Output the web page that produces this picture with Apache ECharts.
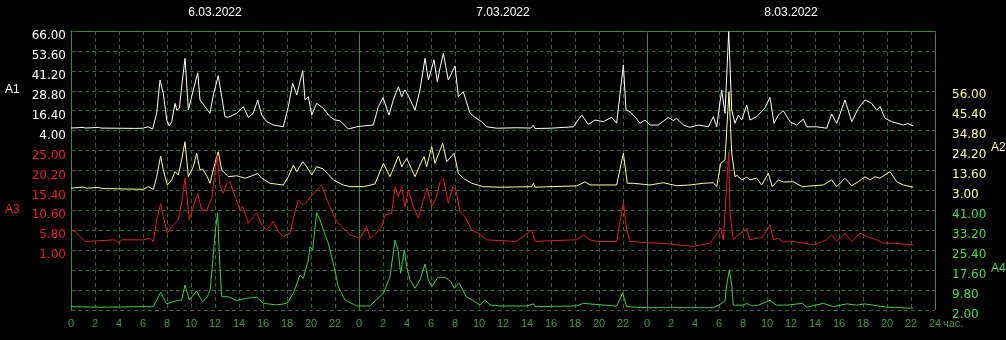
<!DOCTYPE html>
<html><head><meta charset="utf-8">
<script src="https://cdn.jsdelivr.net/npm/echarts@6/dist/echarts.min.js"></script>
<style>html,body{margin:0;padding:0;background:#000;}#c{width:1006px;height:340px;}</style>
</head><body><div id="c"></div>
<script>
// ---- data ----
const dayLabels = ['6.03.2022', '7.03.2022', '8.03.2022'];
const unitLabel = 'час.';
const a1Ticks = ['66.00', '53.60', '41.20', '28.80', '16.40', '4.00'];
const a3Ticks = ['25.00', '20.20', '15.40', '10.60', '5.80', '1.00'];
const a2Ticks = ['56.00', '45.40', '34.80', '24.20', '13.60', '3.00'];
const a4Ticks = ['41.00', '33.20', '25.40', '17.60', '9.80', '2.00'];

const a1Hours = [0, 1.0, 1.2, 2.3, 2.5, 5.3, 6.0, 6.4, 6.8, 7.14,
  7.42, 7.56, 7.69, 7.98, 8.19, 8.39, 8.67, 8.81, 9.03, 9.22,
  9.5, 9.78, 10.19, 10.56, 10.75, 10.97, 11.25, 11.58, 11.86, 12.27,
  12.56, 12.83, 13.11, 13.81, 14.36, 14.78, 15.19, 15.56, 15.89, 16.31,
  16.86, 17.69, 18.11, 18.47, 18.81, 19.31, 19.5, 19.78, 20.06, 20.47,
  21.03, 21.58, 22.0, 22.42, 23.11, 23.81, 24.36, 25.19, 25.61, 26.0,
  26.5, 26.86, 27.28, 27.56, 27.83, 28.08, 28.67, 29.08, 29.5, 29.78,
  30.25, 30.53, 30.75, 31.03, 31.44, 32.0, 32.28, 32.69, 33.25, 33.67,
  34.22, 34.64, 35.47, 37.14, 38.33, 38.53, 38.67, 39.92, 41.86, 42.56,
  43.11, 43.67, 44.36, 45.06, 45.47, 46.03, 46.25, 46.58, 47.0, 47.42,
  47.83, 48.25, 48.94, 49.78, 50.19, 50.47, 51.03, 51.58, 52.28, 53.11,
  53.53, 53.81, 54.22, 54.5, 54.81, 55.06, 55.33, 55.61, 55.89, 56.31,
  56.58, 57.14, 57.83, 58.25, 58.58, 58.94, 59.36, 59.92, 60.47, 61.03,
  61.31, 62.14, 62.97, 63.39, 63.81, 64.5, 65.06, 65.61, 66.17, 66.72,
  67.14, 67.42, 67.83, 68.39, 69.36, 69.75, 70.19];
const a1Values = [5.6, 6.0, 5.6, 6.0, 5.6, 5.4, 5.5, 6.4, 5.0, 14.8,
  35.5, 36.6, 27.2, 10.6, 6.9, 9.6, 21.0, 16.8, 17.9, 31.3,
  49.0, 16.8, 29.3, 40.0, 23.1, 21.0, 18.1, 14.8, 26.2, 38.2,
  25.1, 12.7, 12.3, 14.8, 18.9, 12.3, 14.8, 23.1, 13.7, 9.6,
  7.5, 6.4, 18.9, 33.5, 26.2, 41.3, 23.1, 25.1, 13.7, 21.0,
  17.9, 12.7, 10.6, 10.2, 5.0, 6.4, 6.9, 7.5, 18.9, 24.5,
  13.7, 23.1, 31.3, 25.1, 29.3, 26.2, 16.8, 29.3, 49.0, 35.5,
  48.0, 34.4, 43.0, 52.1, 35.5, 44.2, 25.1, 28.2, 14.8, 12.3,
  9.6, 6.4, 5.5, 5.8, 5.6, 7.5, 5.3, 5.5, 6.4, 13.7,
  7.9, 10.6, 9.6, 12.3, 8.6, 44.8, 16.8, 15.8, 12.5, 8.6,
  10.6, 7.5, 7.5, 12.3, 10.2, 11.7, 7.5, 6.1, 7.5, 6.4,
  12.7, 6.4, 29.3, 14.8, 65.6, 16.8, 8.6, 13.7, 10.6, 20.0,
  10.6, 12.7, 18.1, 24.7, 8.6, 13.7, 16.4, 9.6, 7.5, 11.2,
  6.4, 6.4, 5.5, 14.3, 8.6, 23.1, 9.6, 17.9, 23.1, 21.0,
  16.8, 18.9, 11.7, 9.6, 7.5, 8.4, 6.9];

const a2Hours = [0, 1.0, 1.3, 2.3, 2.6, 6.03, 6.44, 6.86, 7.14, 7.47,
  7.69, 8.03, 8.39, 8.67, 8.94, 9.22, 9.5, 9.78, 10.19, 10.47,
  10.75, 10.97, 11.36, 11.58, 11.92, 12.27, 12.56, 13.11, 13.81, 14.5,
  15.06, 15.56, 15.89, 16.58, 17.69, 18.11, 18.53, 18.81, 19.31, 19.64,
  20.06, 20.47, 21.0, 21.86, 22.69, 23.25, 24.36, 25.33, 26.03, 26.58,
  27.28, 27.56, 27.97, 28.67, 29.08, 29.42, 29.64, 30.06, 30.33, 30.97,
  31.31, 31.92, 32.28, 32.69, 33.39, 34.36, 35.75, 38.39, 38.53, 38.67,
  39.92, 42.14, 42.83, 43.25, 45.47, 46.03, 46.36, 46.86, 48.25, 49.36,
  50.47, 51.58, 52.69, 53.53, 53.81, 54.14, 54.5, 54.83, 55.06, 55.33,
  55.5, 55.89, 56.31, 56.58, 57.14, 57.56, 58.11, 58.44, 58.94, 59.36,
  60.19, 60.94, 61.31, 62.69, 63.39, 63.81, 64.5, 65.06, 65.61, 66.17,
  66.58, 67.0, 67.42, 68.25, 68.81, 69.36, 70.19];
const a2Values = [4.2, 4.8, 4.2, 4.6, 4.0, 3.6, 5.0, 3.6, 10.3, 21.3,
  13.9, 5.9, 8.6, 13.0, 11.2, 19.2, 28.9, 10.3, 15.6, 22.8,
  13.9, 14.4, 10.3, 6.8, 15.6, 23.6, 13.9, 10.3, 10.8, 9.5,
  10.7, 12.1, 9.5, 6.8, 5.9, 10.3, 16.5, 13.0, 18.3, 15.6,
  11.2, 15.6, 14.5, 8.6, 5.9, 5.0, 5.0, 6.4, 17.4, 10.3,
  21.3, 15.6, 20.1, 10.3, 16.5, 21.0, 15.6, 26.3, 17.4, 28.1,
  18.3, 22.8, 12.1, 9.5, 6.8, 5.0, 4.7, 5.0, 6.8, 4.7,
  5.0, 5.4, 7.6, 5.9, 5.9, 22.8, 6.8, 6.8, 5.9, 7.1,
  5.5, 5.9, 6.8, 7.1, 5.0, 17.4, 19.2, 55.5, 22.8, 10.3,
  11.0, 8.6, 10.0, 8.6, 9.5, 5.9, 12.1, 5.0, 8.6, 7.5,
  7.6, 5.0, 5.2, 5.9, 8.6, 5.0, 9.5, 5.5, 7.6, 10.3,
  8.6, 10.3, 9.5, 13.0, 7.6, 5.9, 4.7];

const a3Hours = [0, 0.33, 1.17, 2.42, 3.67, 3.94, 4.2, 6.03, 6.58, 6.86,
  7.14, 7.47, 7.69, 8.03, 8.39, 8.67, 8.94, 9.22, 9.5, 9.86,
  10.19, 10.56, 10.89, 11.31, 11.72, 12.19, 12.42, 12.69, 12.97, 13.25,
  13.67, 14.08, 14.31, 14.78, 15.47, 15.89, 16.31, 16.86, 17.28, 17.69,
  18.25, 18.67, 18.94, 19.36, 19.78, 20.19, 20.89, 21.44, 22.14, 23.25,
  24.08, 24.64, 24.92, 25.19, 25.89, 26.17, 26.72, 27.0, 27.28, 27.56,
  27.83, 28.11, 28.53, 28.94, 29.36, 29.69, 30.06, 30.47, 30.75, 31.03,
  31.44, 31.81, 32.08, 32.42, 32.83, 33.39, 33.94, 34.64, 37.14, 38.39,
  38.67, 39.92, 42.14, 42.69, 43.25, 43.81, 45.47, 46.03, 46.31, 46.58,
  48.25, 49.92, 51.86, 53.25, 53.67, 54.14, 54.36, 54.81, 54.92, 55.19,
  55.47, 56.31, 56.58, 57.14, 57.58, 58.25, 58.53, 58.94, 59.36, 60.19,
  61.94, 62.97, 63.39, 63.81, 64.5, 65.06, 65.75, 66.31, 67.14, 67.69,
  68.25, 70.19];
const a3Values = [5.9, 5.5, 3.1, 3.3, 3.5, 2.7, 3.5, 3.5, 3.9, 3.1,
  8.3, 12.2, 9.1, 5.1, 6.7, 7.5, 8.3, 12.3, 18.3, 8.3,
  11.5, 14.7, 10.7, 10.7, 13.5, 23.9, 16.3, 14.7, 17.1, 17.5,
  13.9, 10.7, 11.5, 7.5, 10.0, 7.1, 5.9, 7.9, 5.5, 4.3,
  5.1, 10.3, 13.1, 11.9, 13.1, 14.7, 16.7, 12.3, 7.9, 4.7,
  3.9, 6.7, 3.9, 4.3, 6.7, 9.5, 9.9, 16.3, 13.9, 16.3,
  11.5, 15.5, 11.5, 8.7, 13.1, 15.9, 11.5, 13.9, 17.5, 18.3,
  12.3, 16.3, 15.5, 10.3, 9.1, 5.9, 5.1, 3.5, 3.1, 5.9,
  3.1, 3.3, 3.5, 4.7, 3.5, 3.1, 3.1, 12.4, 5.9, 3.1,
  2.8, 2.5, 1.9, 2.7, 4.3, 6.3, 3.5, 24.7, 10.0, 3.5,
  4.3, 6.3, 3.5, 3.9, 4.0, 7.1, 3.5, 3.9, 3.0, 3.1,
  2.3, 3.5, 4.7, 3.1, 5.1, 3.1, 5.1, 4.3, 3.5, 2.7,
  2.7, 2.3];

const a4Hours = [0, 2.42, 6.03, 6.86, 7.47, 7.97, 8.81, 9.22, 9.5, 9.86,
  10.47, 10.97, 11.36, 11.6, 11.75, 12.05, 12.22, 12.4, 12.56, 13.11,
  13.8, 14.64, 15.47, 16.03, 17.14, 18.0, 18.53, 19.08, 19.36, 19.78,
  19.92, 20.14, 20.47, 20.75, 21.03, 21.44, 21.86, 22.28, 22.83, 23.81,
  24.92, 26.03, 26.58, 27.0, 27.25, 27.47, 27.78, 27.97, 28.25, 28.67,
  29.08, 29.5, 29.78, 30.06, 30.58, 31.17, 31.67, 31.94, 32.36, 32.92,
  33.44, 34.08, 34.5, 34.92, 35.64, 38.0, 38.53, 38.67, 42.14, 42.69,
  45.47, 45.97, 46.31, 47.97, 53.53, 54.08, 54.5, 54.64, 54.86, 55.06,
  55.19, 56.03, 56.31, 56.72, 57.28, 58.25, 58.78, 59.67, 60.94, 61.31,
  62.69, 63.53, 64.64, 65.47, 66.14, 67.97, 70.19];
const a4Values = [3.3, 3.1, 3.3, 3.3, 8.9, 4.4, 5.7, 5.9, 11.8, 5.9,
  9.4, 5.1, 7.2, 9.8, 18.0, 34.0, 40.0, 19.5, 7.2, 7.2,
  5.7, 6.6, 7.0, 4.6, 4.0, 4.6, 8.6, 15.7, 14.4, 21.6,
  26.8, 25.5, 40.1, 37.2, 33.3, 28.1, 20.3, 11.1, 5.9, 3.6,
  3.6, 8.6, 15.0, 29.4, 25.5, 16.4, 25.5, 19.0, 13.8, 10.5,
  13.8, 20.0, 13.8, 11.1, 14.8, 14.8, 13.1, 10.5, 12.5, 7.2,
  5.9, 4.0, 5.9, 4.0, 3.6, 3.6, 4.4, 3.3, 3.6, 4.6,
  3.5, 8.6, 3.3, 2.9, 2.9, 4.2, 5.5, 11.8, 17.7, 11.8,
  3.9, 3.9, 4.6, 3.6, 3.9, 5.8, 3.9, 3.9, 4.6, 3.1,
  4.6, 3.3, 4.4, 3.9, 4.4, 3.1, 2.7];

// ---- layout / style ----
const ROWS = 14;
const GRID = '#2b6a2b', BORDER = '#3c8a3c', XLAB = '#3fa03f';
const C1 = '#ffffff', C2 = '#ffff90', C3 = '#e02222', C4 = '#48dc48';
const L2 = '#ffff99', L3 = '#dd2020', L4 = '#44cc44';

function band(ticks, startRow) {
  const top = parseFloat(ticks[0]);
  const step = top - parseFloat(ticks[1]);
  const max = top + startRow * step;
  return { min: +(max - ROWS * step).toFixed(4), max: +max.toFixed(4) };
}
const b1 = band(a1Ticks, 0), b3 = band(a3Ticks, 6), b2 = band(a2Ticks, 3), b4 = band(a4Ticks, 9);
const zip = (h, v) => h.map((x, i) => [x, v[i]]);

function leftLabel(v) {
  const r = Math.round(v);
  if (r <= 5) return a1Ticks[r];
  if (r <= 11) return a3Ticks[r - 6];
  return '';
}
function rightLabel(v) {
  const r = Math.round(v);
  if (r >= 3 && r <= 8) return a2Ticks[r - 3];
  if (r >= 9) return a4Ticks[r - 9];
  return '';
}

const chart = echarts.init(document.getElementById('c'), null, { renderer: 'canvas' });
const dataAxis = (b) => ({ type: 'value', show: false, min: b.min, max: b.max, splitLine: { show: false } });
chart.setOption({
  backgroundColor: '#000000',
  animation: false,
  grid: { left: 71, top: 31, width: 864, height: 279, containLabel: false },
  xAxis: [
    {
      type: 'value', min: 0, max: 72, interval: 2, position: 'bottom',
      axisLine: { show: true, lineStyle: { color: BORDER, width: 1 } },
      axisTick: { show: true, length: 3, lineStyle: { color: GRID } },
      splitLine: { show: true, lineStyle: { color: GRID, type: [4, 3], width: 1 } },
      axisLabel: { color: XLAB, fontFamily: 'Liberation Sans', fontSize: 11, margin: 8,
        formatter: v => v === 72 ? '24' : String(v % 24) }
    },
    {
      type: 'value', min: 0, max: 72, interval: 12, position: 'top',
      axisLine: { show: true, lineStyle: { color: BORDER, width: 1 } },
      axisTick: { show: false }, splitLine: { show: false },
      axisLabel: { color: '#ffffff', fontFamily: 'Liberation Sans', fontSize: 12, margin: 12,
        formatter: v => (v % 24 === 12) ? dayLabels[(v - 12) / 24] : '' }
    },
    {
      type: 'value', min: 0, max: 72, interval: 24, position: 'bottom',
      axisLine: { show: false }, axisTick: { show: false }, axisLabel: { show: false },
      splitLine: { show: true, lineStyle: { color: BORDER, type: 'solid', width: 1 } }
    }
  ],
  yAxis: [
    {
      type: 'value', min: 0, max: ROWS, interval: 1, inverse: true, position: 'left',
      axisLine: { show: true, lineStyle: { color: BORDER, width: 1 } },
      axisTick: { show: false },
      splitLine: { show: true, lineStyle: { color: GRID, type: [4, 3], width: 1 } },
      axisLabel: { fontFamily: 'DejaVu Sans', fontSize: 12, margin: 5,
        verticalAlign: 'top', lineHeight: 10,
        formatter: leftLabel, color: v => (Math.round(v) <= 5 ? C1 : C3) }
    },
    {
      type: 'value', min: 0, max: ROWS, interval: 1, inverse: true, position: 'right',
      axisLine: { show: true, lineStyle: { color: BORDER, width: 1 } },
      axisTick: { show: true, length: 5, inside: false, lineStyle: { color: GRID } },
      splitLine: { show: false },
      axisLabel: { fontFamily: 'DejaVu Sans', fontSize: 12, margin: 17,
        verticalAlign: 'top', lineHeight: 9,
        formatter: rightLabel, color: v => (Math.round(v) <= 8 ? C2 : C4) }
    },
    dataAxis(b1), dataAxis(b2), dataAxis(b3), dataAxis(b4)
  ],
  graphic: [
    { type: 'text', left: 5, top: 84, style: { text: 'A1', fill: C1, font: '12px "Liberation Sans"' } },
    { type: 'text', left: 5, top: 204, style: { text: 'A3', fill: C3, font: '12px "Liberation Sans"' } },
    { type: 'text', left: 991, top: 142, style: { text: 'A2', fill: C2, font: '12px "Liberation Sans"' } },
    { type: 'text', left: 991, top: 263, style: { text: 'A4', fill: C4, font: '12px "Liberation Sans"' } },
    { type: 'text', left: 943, top: 318, style: { text: unitLabel, fill: XLAB, font: '11px "Liberation Sans"' } }
  ],
  series: [
    { name: 'A4', type: 'line', xAxisIndex: 0, yAxisIndex: 5, data: zip(a4Hours, a4Values),
      symbol: 'none', lineStyle: { color: L4, width: 1 } },
    { name: 'A2', type: 'line', xAxisIndex: 0, yAxisIndex: 3, data: zip(a2Hours, a2Values),
      symbol: 'none', lineStyle: { color: L2, width: 1 } },
    { name: 'A3', type: 'line', xAxisIndex: 0, yAxisIndex: 4, data: zip(a3Hours, a3Values),
      symbol: 'none', lineStyle: { color: L3, width: 1 } },
    { name: 'A1', type: 'line', xAxisIndex: 0, yAxisIndex: 2, data: zip(a1Hours, a1Values),
      symbol: 'none', lineStyle: { color: C1, width: 1 } }
  ]
});
</script></body></html>
